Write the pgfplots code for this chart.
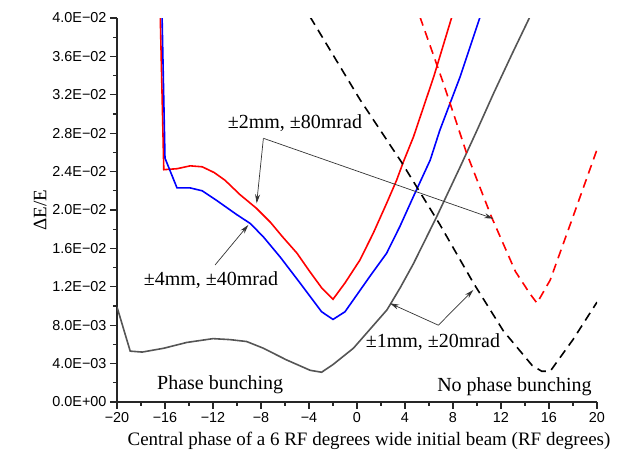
\documentclass[border=0pt]{standalone}
\usepackage{fontspec}
\setmainfont{Liberation Serif}
\newfontfamily\arialf{Liberation Sans}
\usepackage{pgfplots}
\pgfplotsset{compat=1.18}
\usetikzlibrary{arrows.meta}
\definecolor{dgray}{RGB}{85,85,85}
\begin{document}
\begin{tikzpicture}
\begin{axis}[
  name=ax,
  scale only axis, width=480pt, height=384pt,
  xmin=-20, xmax=20, ymin=0, ymax=0.04,
  axis x line=bottom, axis y line=left,
  axis line style={-, line width=1.2pt, draw=black!85},
  tick align=outside, major tick length=7pt, minor tick length=4pt,
  every tick/.style={line width=1.2pt, black!85},
  xtick={-20,-16,-12,-8,-4,0,4,8,12,16,20},
  xticklabels={−20,−16,−12,−8,−4,0,4,8,12,16,20},
  minor x tick num=1,
  ytick={0,0.004,0.008,0.012,0.016,0.02,0.024,0.028,0.032,0.036,0.04},
  yticklabels={0.0E+00,4.0E−03,8.0E−03,1.2E−02,1.6E−02,2.0E−02,2.4E−02,2.8E−02,3.2E−02,3.6E−02,4.0E−02},
  minor y tick num=1,
  scaled y ticks=false,
  tick label style={font=\arialf\fontsize{14.4}{16}\selectfont},
  xlabel={Central phase of a 6 RF degrees wide initial beam (RF degrees)},
  xlabel style={font=\fontsize{19}{22}\selectfont, at={(axis description cs:0.525,-0.1)}, anchor=center},
  ylabel={ΔE/E},
  ylabel style={font=\fontsize{19}{22}\selectfont, at={(axis description cs:-0.16,0.5)}, anchor=center, rotate=0},
  every axis plot/.append style={line width=1.6pt},
]
% +-1mm, +-20mrad, phase bunching
\addplot[dgray] coordinates {
  (-20,0.0099) (-18.9,0.0053) (-17.9,0.0052) (-16.1,0.0056) (-14.2,0.0062)
  (-12.0,0.0066) (-10.6,0.0065) (-9.2,0.0063) (-7.8,0.0056) (-5.9,0.0044)
  (-3.9,0.0033) (-2.95,0.0031) (-2.0,0.0039) (-0.3,0.0056) (1.1,0.0076)
  (2.5,0.0096) (3.6,0.0119) (4.7,0.0144) (6.64,0.0193) (8.6,0.0245)
  (10.0,0.0283) (11.4,0.0322) (12.9,0.0362) (14.4,0.0401)};
% +-2mm, +-80mrad, phase bunching
\addplot[red] coordinates {
  (-16.4,0.0405) (-16.1,0.0242) (-15.0,0.0243) (-13.9,0.0246) (-12.9,0.0245)
  (-11.9,0.0239) (-11.0,0.0231) (-9.75,0.0216) (-8.4,0.0202) (-7.2,0.0187)
  (-6.2,0.0172) (-5.0,0.0155) (-4.0,0.0137) (-2.95,0.0119) (-2.0,0.0107)
  (-1.0,0.0124) (0.25,0.0148) (1.36,0.0176) (2.47,0.0207) (3.3,0.0231)
  (3.86,0.0250) (4.7,0.0276) (6.4,0.0339) (7.9,0.0401)};
% +-4mm, +-40mrad, phase bunching
\addplot[blue] coordinates {
  (-16.25,0.0405) (-16.0,0.0254) (-15.0,0.0223) (-13.9,0.0223) (-12.9,0.0220)
  (-11.7,0.0210) (-10.0,0.0195) (-8.9,0.0186) (-7.8,0.0172) (-6.4,0.0151)
  (-4.75,0.0124) (-2.95,0.0094) (-2.0,0.0086) (-1.0,0.0094) (1.08,0.0131)
  (2.47,0.0155) (3.58,0.0183) (4.7,0.0214) (6.1,0.0252) (6.9,0.0283)
  (8.6,0.0339) (10.25,0.0401)};
% no phase bunching
\addplot[black, dash pattern=on 9pt off 6pt] coordinates {
  (-3.9,0.0401) (0.25,0.0315) (3.7,0.0250) (6.9,0.0185) (9.7,0.0124)
  (12.2,0.0074) (14.6,0.0038) (15.4,0.0032) (16.1,0.0032) (18.0,0.0065)
  (20,0.0104)};
\addplot[red, dash pattern=on 9pt off 6pt] coordinates {
  (5.25,0.0401) (7.2,0.0332) (9.14,0.0259) (11.2,0.0193) (13.2,0.0136)
  (14.4,0.0113) (15.0,0.0103) (16.1,0.0127) (18.0,0.0193) (20,0.0263)};
% annotations
\node[font=\fontsize{20}{22}\selectfont] at (axis cs:-5.17,0.0291) {±2mm, ±80mrad};
\draw[line width=0.7pt, black!80, -{Stealth[length=9pt,width=5pt]}] (axis cs:-7.8,0.02747) -- (axis cs:-8.36,0.0207);
\draw[line width=0.7pt, black!80, -{Stealth[length=9pt,width=5pt]}] (axis cs:-7.8,0.02747) -- (axis cs:11.36,0.0191);
\node[font=\fontsize{20}{22}\selectfont] at (axis cs:-12.17,0.0127) {±4mm, ±40mrad};
\draw[line width=0.7pt, black!80, -{Stealth[length=9pt,width=5pt]}] (axis cs:-11.83,0.01427) -- (axis cs:-9.06,0.01844);
\node[font=\fontsize{20}{22}\selectfont] at (axis cs:6.33,0.00625) {±1mm, ±20mrad};
\draw[line width=0.7pt, black!80, -{Stealth[length=9pt,width=5pt]}] (axis cs:6.78,0.0080) -- (axis cs:2.75,0.01028);
\draw[line width=0.7pt, black!80, -{Stealth[length=9pt,width=5pt]}] (axis cs:6.78,0.0080) -- (axis cs:9.69,0.01167);
\node[font=\fontsize{20}{22}\selectfont] at (axis cs:-11.4,0.00177) {Phase bunching};
\node[font=\fontsize{20}{22}\selectfont, anchor=east] at (axis cs:19.85,0.0016) {No phase bunching};
\end{axis}
\path (ax.south west) ++(-117pt,-59pt) rectangle ++(622pt,461pt);
\end{tikzpicture}
\end{document}
